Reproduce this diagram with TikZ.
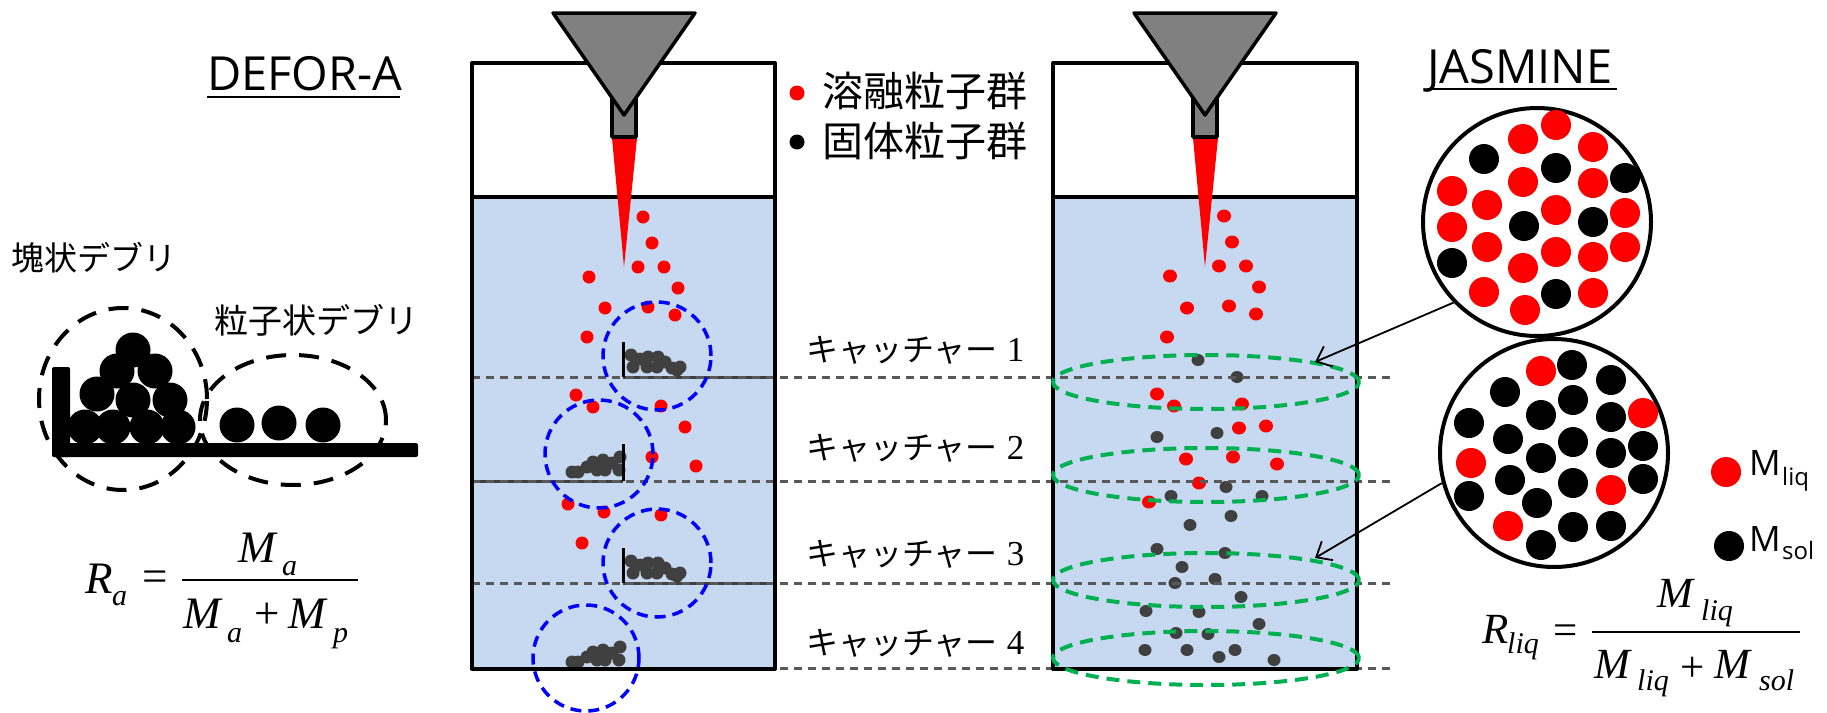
\documentclass[tikz,border=0pt]{standalone}
\usepackage{fontspec}
\usetikzlibrary{arrows.meta}
\newfontfamily\jp{Noto Sans CJK JP}
\newfontfamily\tms{Liberation Serif}
\newfontfamily\lat{Open Sans}
\newcommand\fs[1]{\fontsize{#1}{#1}\selectfont}
\definecolor{water}{RGB}{198,217,240}
\definecolor{funnelgray}{RGB}{128,128,128}
\definecolor{melt}{RGB}{255,0,0}
\definecolor{debris}{RGB}{64,64,64}
\definecolor{levelgray}{RGB}{89,89,89}
\definecolor{zoneblue}{RGB}{0,0,255}
\definecolor{zonegreen}{RGB}{0,176,80}
\begin{document}
\begin{tikzpicture}[x=1pt,y=-1pt,
  wall/.style={draw=black, line width=4pt, line join=round},
  funnelpart/.style={fill=funnelgray, draw=black, line width=3.5pt, line join=round},
  level/.style={draw=levelgray, line width=3pt, dash pattern=on 8pt off 6pt},
  plate/.style={draw=debris, line width=3pt},
  platewall/.style={draw=black, line width=3pt},
  catchzone/.style={draw=zoneblue, line width=3.5pt, dash pattern=on 11pt off 7pt},
  samplezone/.style={draw=zonegreen, line width=4pt, dash pattern=on 13pt off 8pt},
  heapzone/.style={draw=black, line width=4pt, dash pattern=on 20pt off 13pt},
  lens/.style={circle, draw=black, line width=4pt, minimum size=228pt, inner sep=0pt},
  pointer/.style={draw=black, line width=1.8pt, -{Straight Barb[length=13pt,width=22pt]}},
  txt/.style={inner sep=0pt},
  bl/.style={inner sep=0pt, anchor=base west},
]
\useasboundingbox (0,0) rectangle (1827,712);

%================ left: debris types ================
\node[bl, font=\lat\fs{47}] (defor) at (207,90) {DEFOR-A};
\draw[line width=2.5pt] (defor.base west) ++(0,7) -- ++(193,0);

\node[txt, anchor=west, font=\jp\fs{33}] (lump) at (11,258) {塊状デブリ};
\node[txt, anchor=west, font=\jp\fs{34}] (part) at (214,320) {粒子状デブリ};

% floor and side post
\fill[rounded corners=2pt] (52,443) rectangle (418,457);
\fill[rounded corners=2pt] (52,367) rectangle (70,457);
% agglomerated heap
\foreach \x/\y in {133/350,117/371,155/371,97/394,133/400,170/400,85/427,113/427,147/427,178/427}
  \fill (\x,\y) circle[radius=17.5pt];
% loose particles
\foreach \x/\y in {237/425,279/423,323/425}
  \fill (\x,\y) circle[radius=17.5pt];
\draw[heapzone] (123,399) ellipse[x radius=84pt, y radius=91pt];
\draw[heapzone] (293,420) ellipse[x radius=93pt, y radius=65pt];

% R_a formula
\node[bl, font=\tms\itshape\fs{45}] (raR) at (85,593) {R};
\node[bl, font=\tms\itshape\fs{30}] (raS) at (112,605) {a};
\node[txt, anchor=base, font=\tms\fs{45}] (raEq) at (155,591) {=};
\draw[line width=2pt] (182,580) -- (358,580);
\node[bl, font=\tms\itshape\fs{45}] (raN) at (238,562) {M};
\node[bl, font=\tms\itshape\fs{30}] (raNs) at (282,575) {a};
\node[bl, font=\tms\itshape\fs{45}] (raD1) at (183,628) {M};
\node[bl, font=\tms\itshape\fs{30}] (raD1s) at (227,642) {a};
\node[txt, anchor=base, font=\tms\fs{45}] (raPlus) at (267,628) {+};
\node[bl, font=\tms\itshape\fs{45}] (raD2) at (288,628) {M};
\node[bl, font=\tms\itshape\fs{30}] (raD2s) at (333,642) {p};

%================ centre tank: catchers ================
\fill[water] (472,197) rectangle (775,669);
\foreach \x/\y in {643/217,652/243,638/267,664/267,589/277,678/288,605/308,648/307,675/315,587/337,
                   576/395,593/407,661/406,685/427,652/457,696/466,568/504,604/512,661/515,582/543}
  \fill[melt] (\x,\y) circle[radius=6.5pt];
% debris on the catcher plates
\foreach \dy in {0,206}
  \foreach \x/\y in {631/355,633/367,640/359,648/357,647/367,658/357,657/367,665/362,672/368,680/367,677/370}
    \fill[debris] (\x,\y+\dy) circle[radius=6.5pt];
\foreach \dy in {0,190}
  \foreach \x/\y in {572/472,578/472,587/467,593/462,597/470,603/460,605/470,612/463,620/457,619/470}
    \fill[debris] (\x,\y+\dy) circle[radius=6.5pt];
\draw[plate] (623,377) -- (775,377);
\draw[plate] (472,481) -- (623,481);
\draw[plate] (623,583) -- (775,583);
\draw[platewall] (623,342) -- (623,377);
\draw[platewall] (623,444) -- (623,481);
\draw[platewall] (623,548) -- (623,583);

%================ right tank: sampling ================
\fill[water] (1053,197) rectangle (1357,669);
\foreach \x/\y in {1224/216,1232/242,1219/266,1246/266,1170/276,1259/287,1187/308,1229/306,1256/314,1167/337,
                   1157/394,1174/406,1242/404,1239/428,1266/426,1186/459,1233/457,1277/464,1199/483,1149/502}
  \fill[melt] (\x,\y) ellipse[x radius=7pt, y radius=6.5pt];
\foreach \x/\y in {1198/360,1237/377,1157/437,1217/433,1226/487,1171/496,1262/496,1231/516,1190/525,
                   1157/549,1225/553,1182/567,1215/579,1175/583,1241/597,1146/611,1199/612,1259/624,
                   1176/633,1208/634,1145/650,1187/650,1235/650,1219/657,1274/660}
  \fill[debris] (\x,\y) ellipse[x radius=6.5pt, y radius=6pt];

% catcher levels
\foreach \y in {377,481,583,668}
  \draw[level] (472,\y) -- (1395,\y);

% tank walls
\foreach \xl/\xr in {472/775,1053/1357}{
  \draw[wall] (\xl,63) rectangle (\xr,669);
  \draw[wall] (\xl,197) -- (\xr,197);
}

% catch regions
\draw[catchzone] (657,356) circle[radius=54pt];
\draw[catchzone] (599,454) circle[radius=54pt];
\draw[catchzone] (657,563) circle[radius=54pt];
\draw[catchzone] (586,658) circle[radius=53pt];
\foreach \y in {382,475,580,658}
  \draw[samplezone] (1206,\y) ellipse[x radius=153pt, y radius=27pt];

% funnels, nozzles and jets
\foreach \c in {624,1205}{
  \fill[melt] (\c-12,138) -- (\c+13,138) -- (\c,267) -- cycle;
  \draw[funnelpart] (\c-12,95) rectangle (\c+12,137);
  \draw[funnelpart] (\c-71,13) -- (\c+71,13) -- (\c,115) -- cycle;
}

% legend of particle groups
\fill[melt] (797,93) circle[radius=7.5pt];
\fill[black] (797,142) circle[radius=7.5pt];
\node[txt, anchor=west, font=\jp\fs{41}] (meltlbl) at (822,91) {溶融粒子群};
\node[txt, anchor=west, font=\jp\fs{41}] (solidlbl) at (822,141) {固体粒子群};

% catcher labels
\foreach \n/\y in {1/350,2/448,3/554,4/643}
  \node[txt, anchor=west] (catcher\n) at (806,\y) {{\jp\fs{32}キャッチャー}\hspace{9pt}{\tms\fs{35}\n}};

%================ right: composition ================
\node[bl, font=\lat\fs{47}] (jasmine) at (1427,83) {JASMINE};
\draw[line width=2.5pt] (jasmine.base west) ++(0,6) -- ++(190,0);

\node[lens] (lensA) at (1537,222) {};
\foreach \x/\y/\c in {1556/125/melt,1523/139/melt,1593/147/melt,1484/159/black,1556/168/black,
                      1523/182/melt,1593/183/melt,1625/178/black,1452/191/melt,1487/205/melt,
                      1556/210/melt,1625/213/melt,1524/226/black,1593/222/black,1452/227/melt,
                      1487/247/melt,1556/252/melt,1593/257/melt,1625/247/melt,1452/263/black,
                      1523/268/melt,1484/292/melt,1556/294/black,1593/293/melt,1525/310/melt}
  \fill[\c] (\x,\y) circle[radius=15pt];

\node[lens] (lensB) at (1554,453) {};
\foreach \x/\y/\c in {1541/371/melt,1572/365/black,1611/380/black,1505/392/black,1573/400/black,
                      1541/415/black,1611/417/black,1643/413/melt,1469/423/black,1508/439/black,
                      1573/442/black,1541/458/black,1611/453/black,1643/446/black,1471/463/melt,
                      1510/480/black,1573/483/black,1611/490/melt,1643/479/black,1469/496/black,
                      1537/503/black,1508/526/melt,1573/527/black,1611/526/black,1541/545/black}
  \fill[\c] (\x,\y) circle[radius=15pt];

\coordinate (tipA) at (1315,362);
\coordinate (tipB) at (1315,558);
\draw[pointer] (lensA.224) -- (tipA);
\draw[pointer] (lensB.195) -- (tipB);

% legend of masses
\fill[melt] (1726,472) circle[radius=15pt];
\fill[black] (1729,546) circle[radius=15pt];
\node[bl, font=\lat\fs{35}] (mliq) at (1749,475) {M};
\node[bl, font=\lat\fs{24}] (mliqs) at (1782,485) {liq};
\node[bl, font=\lat\fs{35}] (msol) at (1749,551) {M};
\node[bl, font=\lat\fs{24}] (msols) at (1782,559) {sol};

% R_liq formula
\node[bl, font=\tms\itshape\fs{43}] (rlR) at (1482,643) {R};
\node[bl, font=\tms\itshape\fs{30}] (rlS) at (1507,653) {liq};
\node[txt, anchor=base, font=\tms\fs{43}] (rlEq) at (1566,644) {=};
\draw[line width=2pt] (1592,632) -- (1800,632);
\node[bl, font=\tms\itshape\fs{43}] (rlN) at (1657,607) {M};
\node[bl, font=\tms\itshape\fs{30}] (rlNs) at (1701,620) {liq};
\node[bl, font=\tms\itshape\fs{43}] (rlD1) at (1594,678) {M};
\node[bl, font=\tms\itshape\fs{30}] (rlD1s) at (1637,690) {liq};
\node[txt, anchor=base, font=\tms\fs{43}] (rlPlus) at (1693,681) {+};
\node[bl, font=\tms\itshape\fs{43}] (rlD2) at (1714,678) {M};
\node[bl, font=\tms\itshape\fs{30}] (rlD2s) at (1759,690) {sol};
\end{tikzpicture}
\end{document}
